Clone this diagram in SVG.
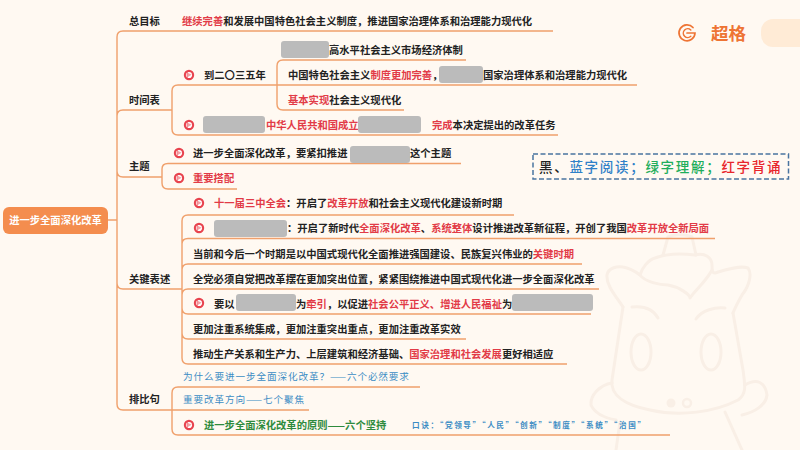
<svg xmlns="http://www.w3.org/2000/svg" width="800" height="450" viewBox="0 0 800 450">
<style>
text{font-family:"Noto Sans CJK SC","Liberation Sans",sans-serif;font-size:10.3px;font-weight:700;fill:#222;dominant-baseline:central;transform:translateY(-.6px)}
.r{fill:#E23B47}
.c{fill:none;stroke:#F0A06C;stroke-width:1.4}
.g{fill:#BBBBBB}
.b{fill:#3B8CC4;font-weight:400;font-size:9.6px;letter-spacing:.9px}
.m{fill:none;stroke:#F9EFE6;stroke-width:3;stroke-linecap:round;stroke-linejoin:round}
.l{font-size:13.5px;letter-spacing:1.7px;font-weight:500}
</style>
<defs>
<g id="flag"><circle r="5.2" fill="#E8434E"/><circle r="3.1" fill="#fff"/><path d="M-1.2-2.2L2.6-.2-1.2 2Z" fill="#E8434E" opacity=".5"/><path d="M-1.8 -3V3.5" stroke="#E8434E" stroke-width=".8"/></g>
</defs>
<rect width="800" height="450" fill="#FFF9F2"/>
<g id="mascot">
<path class="m" d="M623 307C615 295 606 285 607 275C608 268 617 266 623 267C630 268 636 272 640 275C642 268 648 260 655 258C665 254 680 253 695 255C705 252 712 258 712 265C712 270 712 273 715 273C725 270 740 265 748 268C752 273 750 285 742 295C738 302 735 308 733 313"/>
<path class="m" d="M640 275C645 282 660 285 668 285C680 287 690 295 690 298C695 290 705 283 712 270"/>
<path class="m" d="M623 307L612 380C610 395 625 405 650 410C680 417 715 412 738 400C747 394 745 385 743 370L733 313"/>
<path class="m" d="M632 307C640 306 652 307 658 318"/>
<path class="m" d="M696 319C702 310 715 307 725 308"/>
<ellipse class="m" cx="641" cy="352" rx="10" ry="18"/>
<ellipse class="m" cx="711" cy="352" rx="10" ry="18"/>
<circle cx="671" cy="403" r="4.5" fill="#F9EFE6"/><circle cx="687" cy="403" r="4" fill="none" stroke="#F9EFE6" stroke-width="2.5"/>
<path class="m" d="M612 383C600 385 590 395 591 405C595 414 605 418 616 420"/>
<path class="m" d="M745 385C757 378 765 382 767 395C766 405 755 412 742 415"/>
<path class="m" d="M620 422L616 450M725 412L742 450"/>
<path class="m" d="M668 237L663 255M692 237L696 255M668 237C675 234 685 234 692 237"/>
</g>
<g id="logo">
<path d="M693 27.500A8 8 0 1 0 695 33H687" fill="none" stroke="#EE7434" stroke-width="1.700" stroke-linecap="round"/>
<path d="M690.800 30A4.400 4.400 0 1 0 690.800 36.300" fill="none" stroke="#EE7434" stroke-width="1.500" stroke-linecap="round"/>
<text x="711" y="33" style="font-size:17.500px;fill:#EE7434">超格</text>
<rect x="761" y="19" width="60" height="28" rx="12" fill="#FFEBD6"/>
</g>
<g id="connectors">
<path class="c" d="M108 220H117M117 220V37Q117 31 123 31H553M117 116Q117 110 123 110H172M117 171Q117 177 123 177H162M117 283Q117 289 123 289H182M117 220V404Q117 410 123 410H309"/>
<path class="c" d="M172 110V91Q172 85 178 85H277M172 110V129Q172 135 178 135H558"/>
<path class="c" d="M277 85V66Q277 60 283 60H466M277 85H637M277 85V104Q277 110 283 110H404"/>
<path class="c" d="M162 177V169Q162 163.500 168 163.500H461M162 177V183Q162 189 168 189H237"/>
<path class="c" d="M182 289V221Q182 215 188 215H514M182 244Q182 238.500 188 238.500H715M182 270Q182 264 188 264H582M182 295Q182 289 188 289H599M182 289V308Q182 314 188 314H591M182 333Q182 339 188 339H466M182 358Q182 364 188 364H567M182 289V358"/>
<path class="c" d="M172 410V393Q172 387 178 387H420M172 410V429Q172 435 178 435H670"/>
</g>
<g id="root"><rect x="3" y="207" width="105" height="27" rx="6" fill="#F48D4E"/><text x="55.500" y="220.500" text-anchor="middle" style="fill:#fff">进一步全面深化改革</text></g>
<g id="n-goal"><text x="129" y="21">总目标</text><text x="182" y="21"><tspan class="r">继续完善</tspan>和发展中国特色社会主义制度，推进国家治理体系和治理能力现代化</text></g>
<g id="n-time"><text x="129" y="100">时间表</text></g>
<g id="n-2035"><use href="#flag" x="189" y="75"/><text x="204" y="75">到二〇三五年</text></g>
<g id="n-t1"><rect class="g" x="281" y="41" width="48" height="17" rx="3"/><text x="329" y="50">高水平社会主义市场经济体制</text></g>
<g id="n-t2"><text x="288" y="75">中国特色社会主义<tspan class="r">制度更加完善</tspan>，</text><rect class="g" x="439" y="66" width="44" height="17" rx="3"/><text x="483" y="75">国家治理体系和治理能力现代化</text></g>
<g id="n-t3"><text x="288" y="100"><tspan class="r">基本实现</tspan>社会主义现代化</text></g>
<g id="n-prc"><use href="#flag" x="189" y="125"/><rect class="g" x="203" y="116" width="62" height="17" rx="3"/><text x="266" y="125" class="r">中华人民共和国成立</text><rect class="g" x="358" y="116" width="63" height="17" rx="3"/><text x="432" y="125"><tspan class="r">完成</tspan>本决定提出的改革任务</text></g>
<g id="n-theme"><text x="129" y="166">主题</text></g>
<g id="n-th1"><use href="#flag" x="179" y="153"/><text x="193" y="153">进一步全面深化改革，要紧扣推进</text><rect class="g" x="350" y="146" width="60" height="17" rx="3"/><text x="410" y="153">这个主题</text></g>
<g id="n-th2"><use href="#flag" x="179" y="178"/><text x="193" y="178" class="r">重要搭配</text></g>
<g id="n-key"><text x="129" y="279">关键表述</text></g>
<g id="n-k1"><use href="#flag" x="199" y="203"/><text x="214" y="203"><tspan class="r">十一届三中全会</tspan>：开启了<tspan class="r">改革开放</tspan>和社会主义现代化建设新时期</text></g>
<g id="n-k2"><use href="#flag" x="199" y="228"/><rect class="g" x="214" y="220" width="73" height="17" rx="3"/><text x="287" y="228">：开启了新时代<tspan class="r">全面深化改革</tspan>、<tspan class="r">系统整体</tspan>设计推进改革新征程，开创了我国<tspan class="r">改革开放全新局面</tspan></text></g>
<g id="n-k3"><text x="193" y="254">当前和今后一个时期是以中国式现代化全面推进强国建设、民族复兴伟业的<tspan class="r">关键时期</tspan></text></g>
<g id="n-k4"><text x="193" y="279">全党必须自觉把改革摆在更加突出位置，紧紧围绕推进中国式现代化进一步全面深化改革</text></g>
<g id="n-k5"><use href="#flag" x="199" y="303"/><text x="214" y="304">要以</text><rect class="g" x="236" y="294" width="60" height="17" rx="3"/><text x="296" y="304">为<tspan class="r">牵引</tspan>，以促进<tspan class="r">社会公平正义、增进人民福祉</tspan>为</text><rect class="g" x="512" y="294" width="81" height="17" rx="3"/></g>
<g id="n-k6"><text x="193" y="329">更加注重系统集成，更加注重突出重点，更加注重改革实效</text></g>
<g id="n-k7"><text x="193" y="354">推动生产关系和生产力、上层建筑和经济基础、<tspan class="r">国家治理和社会发展</tspan>更好相适应</text></g>
<g id="n-para"><text x="129" y="399">排比句</text></g>
<g id="n-p1"><text x="183" y="377" class="b">为什么要进一步全面深化改革？——六个必然要求</text></g>
<g id="n-p2"><text x="183" y="400" class="b">重要改革方向——七个聚焦</text></g>
<g id="n-p3"><use href="#flag" x="189" y="425"/><text x="204" y="425" style="fill:#2E8B3D">进一步全面深化改革的原则——六个坚持</text><text x="412" y="425" class="b" style="font-size:7.600px;letter-spacing:1.600px;font-weight:700">口诀：“党领导”“人民”“创新”“制度”“系统”“治国”</text></g>
<g id="legend"><rect x="533" y="154" width="255.500" height="25" fill="none" stroke="#4A74A0" stroke-width="1.500" stroke-dasharray="5 2.500"/>
<text x="539" y="167" class="l">黑、<tspan style="fill:#2F80C8">蓝字阅读；</tspan><tspan style="fill:#1FAE5C">绿字理解；</tspan><tspan style="fill:#E8252B">红字背诵</tspan></text></g>
</svg>
